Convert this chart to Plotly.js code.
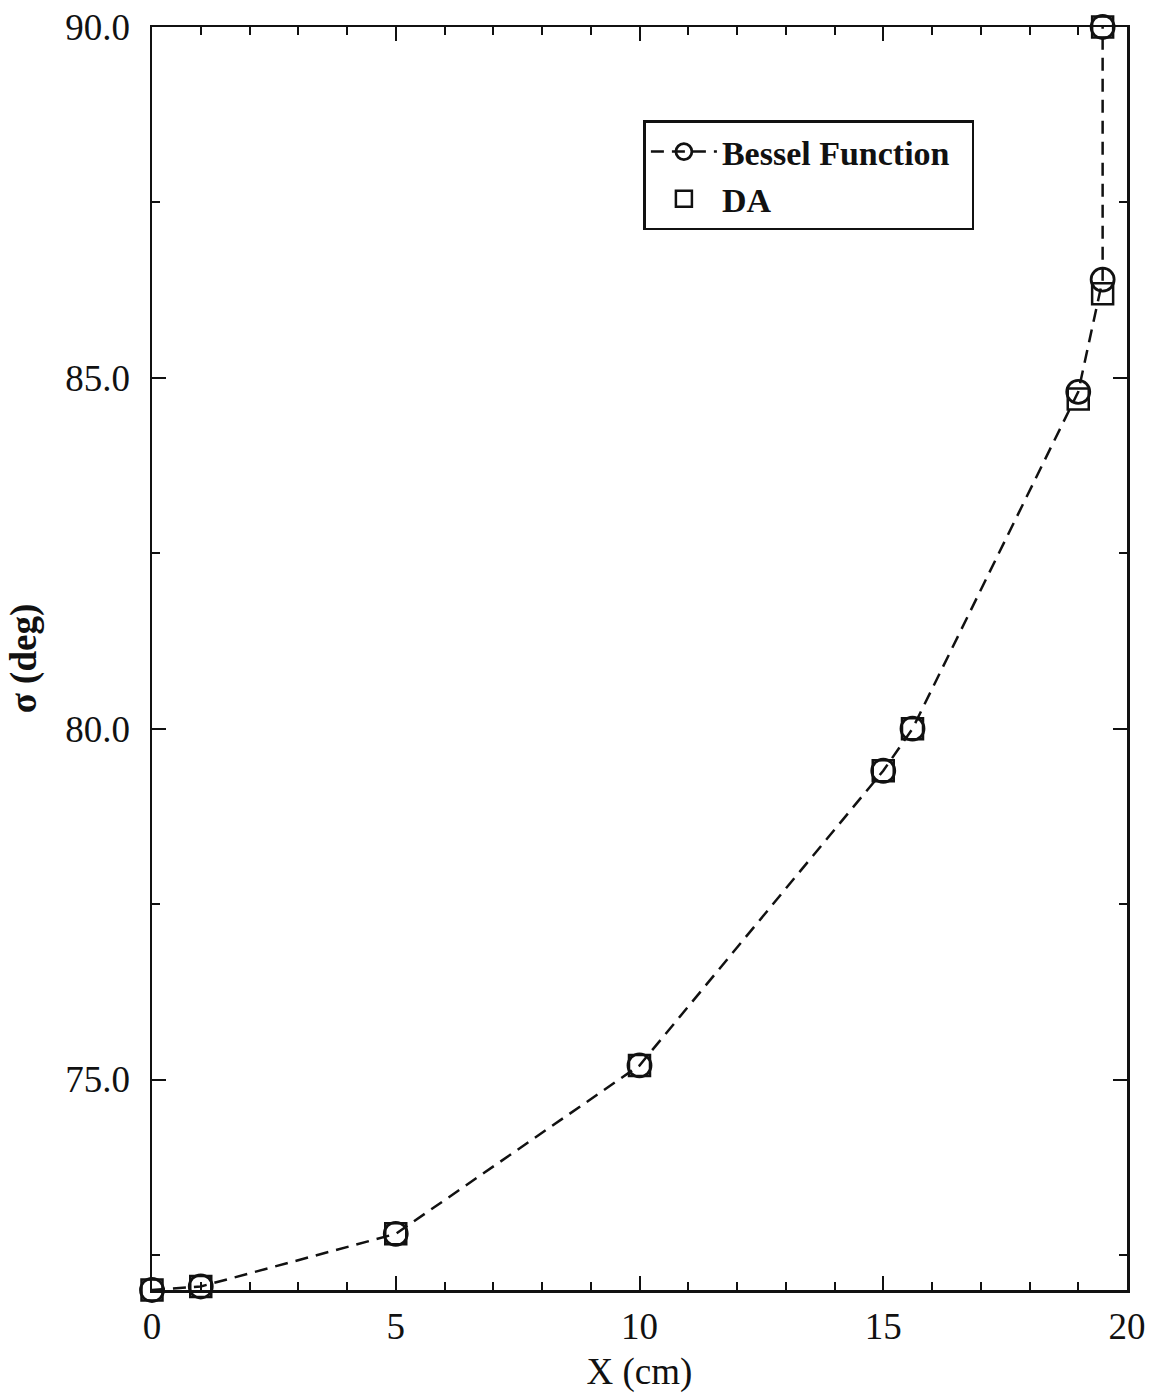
<!DOCTYPE html>
<html>
<head>
<meta charset="utf-8">
<script src="https://cdn.plot.ly/plotly-3.0.1.min.js"></script>
<style>html,body{margin:0;padding:0;background:#fff;}#chart{width:1149px;height:1393px;}</style>
</head>
<body>
<div id="chart"></div>
<script>
const xPos = [0, 1, 5, 10, 15, 15.6, 19, 19.5, 19.5];
const besselSigma = [72.0, 72.05, 72.8, 75.2, 79.4, 80.0, 84.8, 86.4, 90.0];
const daSigma = [72.0, 72.05, 72.8, 75.2, 79.4, 80.0, 84.7, 86.2, 90.0];
const yTickVals = [75, 80, 85, 90];
const yTickText = ['75.0', '80.0', '85.0', '90.0'];
const xTickVals = [0, 5, 10, 15, 20];
const xTickText = ['0', '5', '10', '15', '20'];

const font = 'Liberation Serif, Times New Roman, serif';

const traces = [
  {
    x: xPos, y: besselSigma, name: '<b>Bessel Function</b>&nbsp;&nbsp;',
    type: 'scatter', mode: 'lines+markers',
    line: {color: '#111', width: 2.5, dash: '13px,8px'},
    marker: {symbol: 'circle-open', size: 23, color: '#111', line: {width: 2.8, color: '#111'}},
    cliponaxis: false
  },
  {
    x: xPos, y: daSigma, name: '<b>DA</b>',
    type: 'scatter', mode: 'markers',
    marker: {symbol: 'square-open', size: 21, color: '#111', line: {width: 2.5, color: '#111'}},
    cliponaxis: false
  }
];

const layout = {
  width: 1149, height: 1393,
  margin: {l: 152, r: 22, t: 27, b: 103},
  paper_bgcolor: '#fff', plot_bgcolor: '#fff',
  showlegend: true,
  legend: {
    x: 0.504, y: 0.926, xanchor: 'left', yanchor: 'top',
    bordercolor: '#111', borderwidth: 2.5, bgcolor: '#fff',
    font: {family: font, size: 34, color: '#111'},
    tracegroupgap: 0, itemwidth: 66
  },
  xaxis: {
    range: [0, 20], tickvals: xTickVals, ticktext: xTickText,
    ticks: 'inside', ticklen: 14, tickwidth: 2, tickcolor: '#111',
    minor: {dtick: 1, tick0: 0, ticks: 'inside', ticklen: 8, tickwidth: 2, tickcolor: '#111'},
    showline: true, linecolor: '#111', linewidth: 2.5, mirror: 'ticks',
    showgrid: false, zeroline: false,
    tickfont: {family: font, size: 37, color: '#111'},
    ticklabelstandoff: 2,
    title: {text: 'X (cm)', font: {family: font, size: 37, color: '#111'}, standoff: 12}
  },
  yaxis: {
    range: [72, 90], tickvals: yTickVals, ticktext: yTickText,
    ticks: 'inside', ticklen: 14, tickwidth: 2, tickcolor: '#111',
    minor: {dtick: 2.5, tick0: 72.5, ticks: 'inside', ticklen: 8, tickwidth: 2, tickcolor: '#111'},
    showline: true, linecolor: '#111', linewidth: 2.5, mirror: 'ticks',
    showgrid: false, zeroline: false,
    tickfont: {family: font, size: 37, color: '#111'},
    ticklabelstandoff: 12,
    title: {text: '<b>σ (deg)</b>', font: {family: font, size: 37, color: '#111'}, standoff: 18}
  }
};

Plotly.newPlot('chart', traces, layout, {displayModeBar: false, staticPlot: true});
</script>
</body>
</html>
